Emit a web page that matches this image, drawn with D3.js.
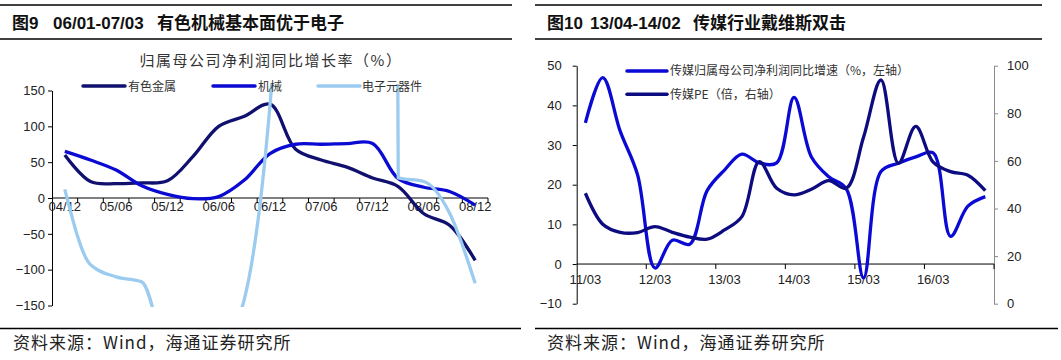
<!DOCTYPE html>
<html><head><meta charset="utf-8">
<script src="https://cdn.jsdelivr.net/npm/d3@7"></script>
<style>body{margin:0;background:#fff}svg{display:block}</style>
</head><body>
<svg id="c" width="1061" height="360"></svg>
<script>
// ---------- Left chart data (图9) ----------
const leftCats = ["04/12","05/03","05/06","05/09","05/12","06/03","06/06","06/09","06/12","07/03","07/06","07/09","07/12","08/03","08/06","08/09","08/12"];
const leftTickLabels = ["04/12","05/06","05/12","06/06","06/12","07/06","07/12","08/06","08/12"];
const leftYTicks = [150,100,50,0,-50,-100,-150];
const metals = [60, 23, 20, 21, 24, 58, 100, 114, 131, 68, 53, 43, 28, 16, -22, -38, -87];
const machinery = [65, 53, 39, 17, 5, -1, 2, 25, 62, 75, 75, 76, 76, 27, 15, 9, -10];
const electronics = [12, -93, -110, -117, -230, -300, -212, -141, 130, 700, 1500, 3000, 8000, 28, 23, -21, -119];
const leftSeriesNames = ["有色金属","机械","电子元器件"];

// ---------- Right chart data (图10) ----------
const rightCats = ["11/03","11/06","11/09","11/12","12/03","12/06","12/09","12/12","13/03","13/06","13/09","13/12","14/03","14/06","14/09","14/12","15/03","15/06","15/09","15/12","16/03","16/06","16/09","16/12"];
const rightTickLabels = ["11/03","12/03","13/03","14/03","15/03","16/03"];
const rightYTicksL = [50,40,30,20,10,0,-10];
const rightYTicksR = [100,80,60,40,20,0];
const mediaProfitGrowth = [35.6, 47, 33.5, 22.5, -1, 6, 5, 18.5, 23.7, 27.7, 25.5, 25.5, 42, 27, 22, 19, -3.5, 23.3, 25.4, 27, 28, 7, 14.6, 17];
const mediaPE = [46.4, 33.4, 30, 29.9, 32.4, 30, 28, 27.1, 31, 36.6, 59.7, 48.5, 45.7, 48.1, 51.7, 48.5, 70, 94, 59, 74.5, 59.5, 55.5, 54, 47.5];
const rightSeriesNames = ["传媒归属母公司净利润同比增速（%，左轴）","传媒PE（倍，右轴）"];

const svg = d3.select("#c");
svg.append("rect").attr("width",1061).attr("height",360).attr("fill","#fff");
const NUM = "'Liberation Sans', Arial, sans-serif";
const CJK = "'Noto Sans CJK SC', sans-serif";

// ---------- frame rules ----------
function rule(x1,x2,y,w){svg.append("line").attr("x1",x1).attr("x2",x2).attr("y1",y).attr("y2",y).attr("stroke","#000").attr("stroke-width",w);}
rule(0,512,5,1.5); rule(0,512,39,1.5); rule(0,521,328.5,1.5);
rule(535,1042,5,1.5); rule(535,1042,39,1.5); rule(535,1058,328.5,1.5);

// titles
function title(parts,y){
  const t = svg.append("text").attr("y",y).attr("font-size",17).attr("font-weight","bold").attr("fill","#111").attr("font-family",NUM+","+CJK);
  parts.forEach(p=>t.append("tspan").attr("x",p[0]).text(p[1]));
}
title([[12,"图9"],[53,"06/01-07/03"],[157,"有色机械基本面优于电子"]],29);
title([[547,"图10"],[590,"13/04-14/02"],[693,"传媒行业戴维斯双击"]],29);

// footers
[[13,"资料来源：Wind，海通证券研究所"],[547,"资料来源：Wind，海通证券研究所"]].forEach(f=>{
  svg.append("text").attr("x",f[0]).attr("y",349).attr("font-size",17).attr("letter-spacing",1)
    .attr("font-family",CJK).attr("fill","#222").text(f[1]);
});

function styleAxis(g,color){
  g.select(".domain").attr("stroke",color).attr("stroke-width",1);
  g.selectAll(".tick line").attr("stroke",color);
  g.selectAll(".tick text").attr("fill","#222").attr("font-size",13).attr("font-family",NUM);
}

// ================= LEFT CHART =================
const xL = d3.scaleBand().domain(leftCats).range([52,488]);
const yL = d3.scaleLinear().domain([-150,150]).range([305.5,90.5]);
const defs = svg.append("defs");
defs.append("clipPath").attr("id","clipL").append("rect").attr("x",52).attr("y",84).attr("width",436).attr("height",223);
defs.append("clipPath").attr("id","clipR").append("rect").attr("x",577).attr("y",55).attr("width",417).attr("height",255);

svg.append("text").attr("x",271).attr("y",66).attr("text-anchor","middle").attr("font-size",15)
  .attr("font-family",CJK).attr("fill","#333").attr("letter-spacing",1.5).text("归属母公司净利润同比增长率（%）");

const gyL = svg.append("g").attr("transform","translate(52,0)")
  .call(d3.axisLeft(yL).tickValues(leftYTicks).tickSize(4).tickPadding(3).tickSizeOuter(0));
styleAxis(gyL,"#000");

// x axis at zero: tick marks at category boundaries, labels at category centres
const bwL = xL.bandwidth();
const gxL = svg.append("g").attr("transform",`translate(0,${yL(0)})`)
  .call(d3.axisBottom(xL).tickValues(leftTickLabels).tickSize(0).tickPadding(4));
styleAxis(gxL,"#000");
gxL.select(".domain").attr("d",`M52,0H488`);
svg.append("g").selectAll("line").data(leftCats.map(c=>xL(c)).concat([488]).slice(1)).join("line")
  .attr("x1",d=>d).attr("x2",d=>d).attr("y1",yL(0)).attr("y2",yL(0)+5).attr("stroke","#000");

const lineL = (vals,curve) => d3.line().curve(curve)
  .x((d,i)=>xL(leftCats[i])+bwL/2).y(d=>yL(d))(vals);
const leftColors = ["#10106e","#0a0ad2","#9ccbf0"];
const leftCurves = [d3.curveCatmullRom.alpha(0.5), d3.curveCatmullRom.alpha(0.5), d3.curveMonotoneX];
const gL = svg.append("g").attr("clip-path","url(#clipL)");
[metals,machinery,electronics].forEach((s,k)=>{
  gL.append("path").attr("d",lineL(s,leftCurves[k])).attr("fill","none").attr("stroke",leftColors[k])
    .attr("stroke-width",3.3).attr("stroke-linejoin","round");
});

// legend
[[83,128],[213,258],[318,362]].forEach((p,k)=>{
  svg.append("line").attr("x1",p[0]).attr("x2",p[0]+42).attr("y1",86).attr("y2",86)
    .attr("stroke",leftColors[k]).attr("stroke-width",3.5).attr("stroke-linecap","round");
  svg.append("text").attr("x",p[1]).attr("y",90.5).attr("font-size",12).attr("font-family",CJK)
    .attr("fill","#333").text(leftSeriesNames[k]);
});

// ================= RIGHT CHART =================
const xR = d3.scaleBand().domain(rightCats).range([576.7,994]);
const bwR = xR.bandwidth();
const yRL = d3.scaleLinear().domain([-10,50]).range([303.7,65.7]);
const yRR = d3.scaleLinear().domain([0,100]).range([303.7,65.7]);

const gyRL = svg.append("g").attr("transform","translate(576.7,0)")
  .call(d3.axisLeft(yRL).tickValues(rightYTicksL).tickSize(4).tickPadding(11).tickSizeOuter(0));
styleAxis(gyRL,"#000");
const gyRR = svg.append("g").attr("transform","translate(994,0)")
  .call(d3.axisRight(yRR).tickValues(rightYTicksR).tickSize(4).tickPadding(9).tickSizeOuter(0));
styleAxis(gyRR,"#8a8a8a");

const gxR = svg.append("g").attr("transform",`translate(0,${yRL(0)})`)
  .call(d3.axisBottom(xR).tickValues(rightTickLabels).tickSize(0).tickPadding(11));
styleAxis(gxR,"#000");
gxR.select(".domain").attr("d",`M576.7,0H994`);
const rBoundaries = rightCats.filter((c,i)=>i%4===0).map(c=>xR(c)).concat([994]).slice(1);
svg.append("g").selectAll("line").data(rBoundaries).join("line")
  .attr("x1",d=>d).attr("x2",d=>d).attr("y1",yRL(0)).attr("y2",yRL(0)+5).attr("stroke","#000");

const rightColors = ["#0a0ad4","#0c0c80"];
const gR = svg.append("g").attr("clip-path","url(#clipR)");
gR.append("path").attr("d", d3.line().curve(d3.curveCatmullRom.alpha(0.5))
  .x((d,i)=>xR(rightCats[i])+bwR/2).y(d=>yRL(d))(mediaProfitGrowth))
  .attr("fill","none").attr("stroke",rightColors[0]).attr("stroke-width",3.3);
gR.append("path").attr("d", d3.line().curve(d3.curveCatmullRom.alpha(0.5))
  .x((d,i)=>xR(rightCats[i])+bwR/2).y(d=>yRR(d))(mediaPE))
  .attr("fill","none").attr("stroke",rightColors[1]).attr("stroke-width",3.3);

[71,94.3].forEach((y,k)=>{
  svg.append("line").attr("x1",627).attr("x2",667).attr("y1",y).attr("y2",y)
    .attr("stroke",rightColors[k]).attr("stroke-width",3.5).attr("stroke-linecap","round");
  svg.append("text").attr("x",670).attr("y",y+4.3).attr("font-size",12).attr("font-family",CJK)
    .attr("fill","#333").text(rightSeriesNames[k]);
});
</script>
</body></html>
